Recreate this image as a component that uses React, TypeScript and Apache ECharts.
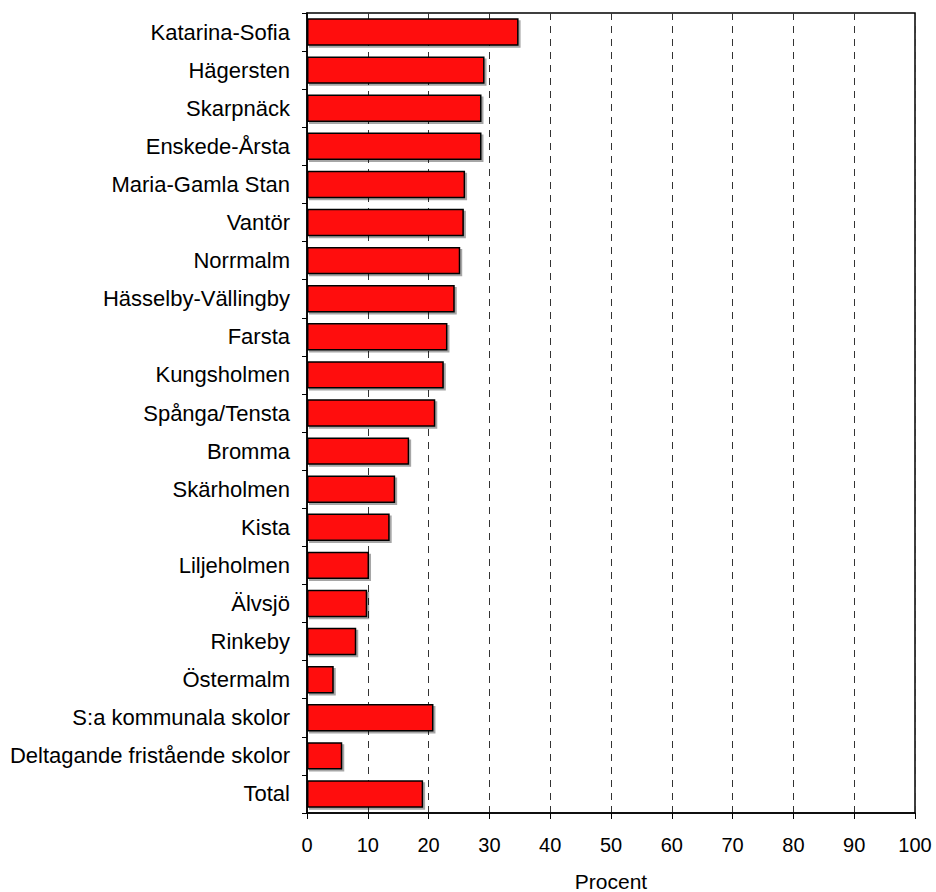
import React, { useEffect, useRef } from "react";
import * as echarts from "echarts";

const categories = [
  "Katarina-Sofia",
  "Hägersten",
  "Skarpnäck",
  "Enskede-Årsta",
  "Maria-Gamla Stan",
  "Vantör",
  "Norrmalm",
  "Hässelby-Vällingby",
  "Farsta",
  "Kungsholmen",
  "Spånga/Tensta",
  "Bromma",
  "Skärholmen",
  "Kista",
  "Liljeholmen",
  "Älvsjö",
  "Rinkeby",
  "Östermalm",
  "S:a kommunala skolor",
  "Deltagande fristående skolor",
  "Total",
];

const values = [
  34.8, 29.2, 28.7, 28.7, 26.0, 25.8, 25.2, 24.3, 23.1, 22.5, 21.1, 16.8, 14.5,
  13.6, 10.2, 9.9, 8.1, 4.4, 20.8, 5.8, 19.1,
];

const axisTitle = "Procent";

export default function App() {
  const ref = useRef<HTMLDivElement>(null);
  useEffect(() => {
    if (!ref.current) return;
    const chart = echarts.init(ref.current, undefined, { renderer: "svg" });
    const font = "'Liberation Sans', Arial, sans-serif";
    chart.setOption({
      animation: false,
      backgroundColor: "#fff",
      grid: {
        left: 307,
        right: 21,
        top: 13,
        bottom: 79,
        containLabel: false,
        outerBoundsMode: "none",
        show: true,
        borderColor: "#000",
        borderWidth: 1.5,
        backgroundColor: "transparent",
      },
      xAxis: {
        type: "value",
        min: 0,
        max: 100,
        interval: 10,
        name: axisTitle,
        nameLocation: "middle",
        nameGap: 60,
        nameTextStyle: { fontFamily: font, fontSize: 21, color: "#000", lineHeight: 16 },
        axisLine: { show: true, lineStyle: { color: "#000", width: 1.5 } },
        axisTick: { show: true, length: 6, lineStyle: { color: "#000", width: 1 } },
        axisLabel: { fontFamily: font, fontSize: 20, color: "#000", margin: 22 },
        splitLine: {
          show: true,
          lineStyle: { color: "#333", type: [7, 6], width: 1 },
        },
      },
      yAxis: {
        type: "category",
        data: categories,
        inverse: true,
        axisLine: { show: true, lineStyle: { color: "#000", width: 1.5 } },
        axisTick: { show: true, length: 5, lineStyle: { color: "#000", width: 1 } },
        axisLabel: { fontFamily: font, fontSize: 22, color: "#000", margin: 17 },
        splitLine: { show: false },
      },
      series: [
        {
          type: "bar",
          data: values,
          barCategoryGap: "28%",
          itemStyle: {
            color: "#ff1010",
            borderColor: "#000",
            borderWidth: 1.5,
            shadowColor: "rgba(0,0,0,0.35)",
            shadowOffsetX: 2,
            shadowOffsetY: 2,
            shadowBlur: 0,
          },
        },
      ],
    });
    return () => chart.dispose();
  }, []);
  return <div ref={ref} style={{ width: 936, height: 892, position: "absolute", left: 0, top: 0 }} />;
}
